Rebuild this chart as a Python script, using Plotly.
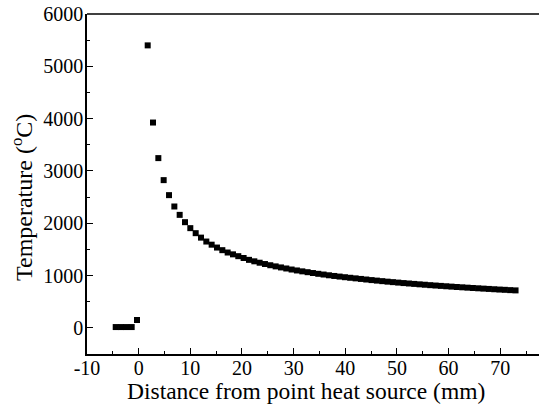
import plotly.graph_objects as go

# Points left of the heat source (x position on axis, temperature)
x_left = [-4.44, -3.41, -2.38, -1.35, -0.32]
t_left = [15, 15, 15, 15, 150]

# Points right of the heat source (x position on axis, temperature)
x_right = [1.75, 2.78, 3.81, 4.84, 5.88, 6.91, 7.94, 8.97, 10.00, 11.04,
           12.07, 13.10, 14.13, 15.16, 16.20, 17.23, 18.26, 19.29, 20.32, 21.36,
           22.39, 23.42, 24.45, 25.48, 26.52, 27.55, 28.58, 29.61, 30.64, 31.68,
           32.71, 33.74, 34.77, 35.80, 36.84, 37.87, 38.90, 39.93, 40.96, 42.00,
           43.03, 44.06, 45.09, 46.12, 47.16, 48.19, 49.22, 50.25, 51.28, 52.32,
           53.35, 54.38, 55.41, 56.44, 57.48, 58.51, 59.54, 60.57, 61.60, 62.64,
           63.67, 64.70, 65.73, 66.76, 67.80, 68.83, 69.86, 70.89, 71.92, 72.96]
t_right = [5400, 3925, 3245, 2824, 2537, 2320, 2160, 2020, 1906, 1810,
           1725, 1650, 1590, 1535, 1485, 1440, 1405, 1370, 1335, 1300,
           1272, 1245, 1220, 1197, 1175, 1155, 1135, 1115, 1097, 1080,
           1064, 1048, 1033, 1019, 1005, 992, 980, 968, 957, 946,
           935, 924, 913, 903, 893, 883, 874, 865, 856, 848,
           840, 832, 824, 816, 809, 802, 795, 788, 781, 775,
           768, 762, 756, 750, 744, 738, 732, 727, 721, 716]

x_ticks = [-10, 0, 10, 20, 30, 40, 50, 60, 70]
x_tick_labels = ["-10", "0", "10", "20", "30", "40", "50", "60", "70"]
y_ticks = [0, 1000, 2000, 3000, 4000, 5000, 6000]
y_tick_labels = ["0", "1000", "2000", "3000", "4000", "5000", "6000"]

x_title = "Distance from point heat source (mm)"
y_title = "Temperature (<sup>o</sup>C)"

font_family = "Liberation Serif, Times New Roman, serif"

fig = go.Figure()
fig.add_trace(go.Scatter(
    x=x_left + x_right, y=t_left + t_right, mode="markers",
    marker=dict(symbol="square", size=6, color="black", line=dict(width=0)),
    showlegend=False,
))

fig.update_layout(
    width=539, height=408,
    margin=dict(l=87, r=0, t=14, b=54),
    paper_bgcolor="white", plot_bgcolor="white",
    font=dict(family=font_family, color="black", size=20),
    xaxis=dict(
        range=[-10, 77.5], tickmode="array", tickvals=x_ticks, ticktext=x_tick_labels,
        ticks="inside", ticklen=6, tickwidth=1.2, tickcolor="black",
        showline=True, linecolor="black", linewidth=1.5,
        showgrid=False, zeroline=False, automargin=False,
        minor=dict(ticks="inside", ticklen=3, dtick=5, tick0=-10, tickcolor="black", tickwidth=1.2, showgrid=False),
        tickfont=dict(size=20), ticklabelstandoff=-5,
    ),
    yaxis=dict(
        range=[-500, 6000], tickmode="array", tickvals=y_ticks, ticktext=y_tick_labels,
        ticks="inside", ticklen=6, tickwidth=1.2, tickcolor="black",
        showline=True, linecolor="black", linewidth=1.5,
        showgrid=False, zeroline=False, automargin=False,
        minor=dict(ticks="inside", ticklen=3, dtick=500, tick0=0, tickcolor="black", tickwidth=1.2, showgrid=False),
        tickfont=dict(size=20), ticklabelstandoff=-2,
    ),
    shapes=[dict(type="line", xref="paper", yref="paper", x0=0, x1=1, y0=1, y1=1,
                 line=dict(color="black", width=1.5))],
    annotations=[
        dict(text=x_title, xref="paper", yref="paper", x=(306 - 87) / 452, y=(354 - 391) / 340,
             xanchor="center", yanchor="middle", showarrow=False, font=dict(size=23.5)),
        dict(text=y_title, xref="paper", yref="paper", x=(22 - 87) / 452, y=(354 - 198) / 340,
             xanchor="center", yanchor="middle", showarrow=False, textangle=-90, font=dict(size=24)),
    ],
)

fig.write_html("out.html", config={"displayModeBar": False},
               post_script="document.body.style.margin='0';document.body.style.overflow='hidden';")
